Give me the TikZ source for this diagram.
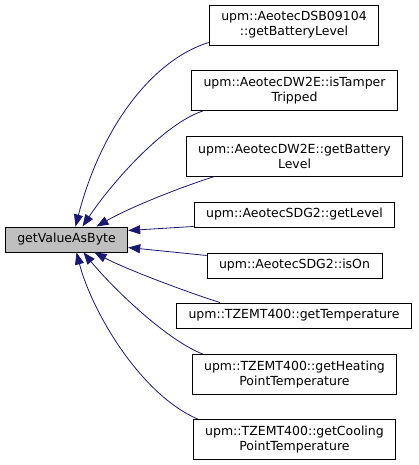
\documentclass[tikz,border=0pt]{standalone}
\usepackage{fontspec}
\setmainfont{DejaVu Sans}
\usepackage{xcolor}
\usetikzlibrary{shapes,arrows.meta,positioning,calc}
\definecolor{edgeblue}{HTML}{191970}

\begin{document}
\begin{tikzpicture}[x=1pt,y=1pt,
  fn/.style={rectangle, draw, line width=0.9pt, inner xsep=12pt, inner ysep=0pt, minimum height=25pt, font=\fontsize{12.5}{15}\selectfont},
  fntwo/.style={fn, align=center, minimum height=40pt},
  calls/.style={draw=edgeblue, line width=0.8pt, -{Triangle[length=12pt,width=9pt]}, edgeblue}]
\useasboundingbox (0,0) rectangle (419,465);
\node[fn, fill=black!25] (gvab) at (66.5,225.5) {getValueAsByte};
\node[fntwo] (dsb) at (294,440) {upm::AeotecDSB09104\\::getBatteryLevel};
\node[fntwo] (tamper) at (294.5,374.5) {upm::AeotecDW2E::isTamper\\Tripped};
\node[fntwo] (dwbat) at (294.5,309) {upm::AeotecDW2E::getBattery\\Level};
\node[fn] (sdglevel) at (294.5,250.5) {upm::AeotecSDG2::getLevel};
\node[fn] (sdgison) at (294.5,199.5) {upm::AeotecSDG2::isOn};
\node[fn] (tztemp) at (294,149.5) {upm::TZEMT400::getTemperature};
\node[fntwo] (tzheat) at (294.5,90.5) {upm::TZEMT400::getHeating\\PointTemperature};
\node[fntwo] (tzcool) at (294.5,25.5) {upm::TZEMT400::getCooling\\PointTemperature};

\draw[calls] ([yshift=3pt]dsb.south west) .. controls +(-58,-18) and +(25,97) .. ([xshift=9pt]gvab.north);
\draw[calls] ([xshift=12pt]tamper.south west) .. controls +(-38,-12) and +(30,45) .. ([xshift=16pt]gvab.north);
\draw[calls] ([xshift=29pt]dwbat.south west) .. controls +(-35,-11) and +(33,19) .. ([xshift=30pt]gvab.north);
\draw[calls] ([yshift=1pt]sdglevel.south west) -- ([yshift=9pt]gvab.east);
\draw[calls] ([yshift=10pt]sdgison.west) -- ([yshift=-8pt]gvab.east);
\draw[calls] ([xshift=44pt]tztemp.north west) .. controls +(-35,11) and +(30,-16) .. ([xshift=28pt]gvab.south);
\draw[calls] ([xshift=11pt]tzheat.north west) .. controls +(-38,15) and +(27,-33) .. ([xshift=17pt]gvab.south);
\draw[calls] ([xshift=5pt]tzcool.north west) .. controls +(-58,25) and +(15,-58) .. ([xshift=10pt]gvab.south);
\end{tikzpicture}
\end{document}
